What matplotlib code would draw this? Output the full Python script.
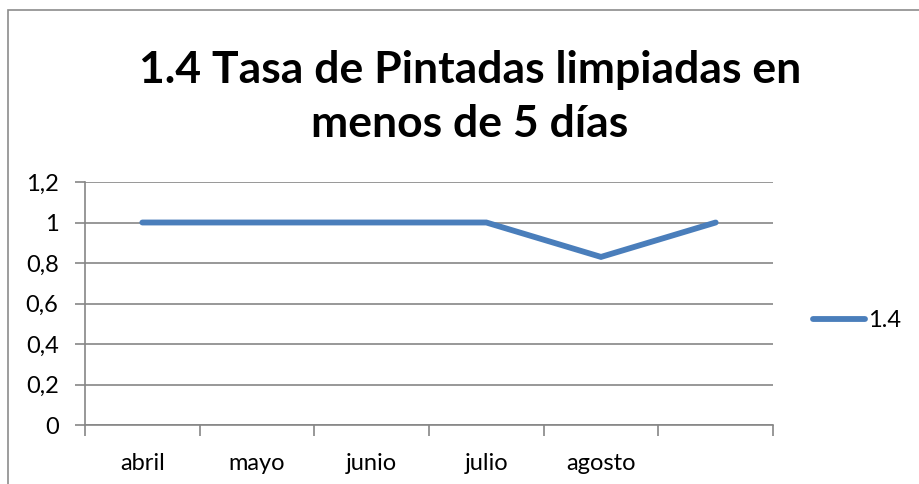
import matplotlib
matplotlib.use("Agg")
import matplotlib.pyplot as plt
from matplotlib.patches import Rectangle

categories = ["abril", "mayo", "junio", "julio", "agosto", ""]
values = [1.0, 1.0, 1.0, 1.0, 0.83, 1.0]
yticks = [0, 0.2, 0.4, 0.6, 0.8, 1.0, 1.2]
ytick_labels = ["0", "0,2", "0,4", "0,6", "0,8", "1", "1,2"]
series_name = "1.4"
title = "1.4 Tasa de Pintadas limpiadas en\nmenos de 5 días"

plt.rcParams['font.family'] = ['Lato', 'DejaVu Sans']

fig = plt.figure(figsize=(9.19, 4.84), dpi=100)
fig.patches.append(Rectangle((8/919, -0.1), 1.2, (484-10)/484 + 0.1, transform=fig.transFigure,
                             fill=False, edgecolor="#8c8c8c", linewidth=1.2))

ax = fig.add_axes([85/919, 59/484, (773-85)/919, (425-182)/484])
x = list(range(len(categories)))
line, = ax.plot(x, values, color="#4A7EBB", linewidth=4.2, solid_capstyle="round",
                solid_joinstyle="miter", zorder=3)

ax.set_xlim(-0.5, len(categories) - 0.5)
ax.set_ylim(0, 1.2)
ax.set_yticks(yticks)
ax.set_yticklabels(ytick_labels, fontsize=17)
ax.set_xticks([i - 0.5 for i in range(len(categories) + 1)])
ax.set_xticklabels([])
ax.set_xticks(x, minor=True)
ax.set_xticklabels(categories, minor=True, fontsize=17)
ax.tick_params(axis='x', which='minor', length=0, pad=20)
ax.tick_params(axis='x', which='major', length=8, color="#868686", width=1.2)
ax.tick_params(axis='y', length=7, color="#868686", width=1.2, pad=12)
ax.yaxis.grid(True, color="#868686", linewidth=1.2)
ax.set_axisbelow(True)
for s in ["top", "right"]:
    ax.spines[s].set_visible(False)
for s in ["left", "bottom"]:
    ax.spines[s].set_color("#868686")
    ax.spines[s].set_linewidth(1.2)

fig.text(470/919, 1 - 97/484, title, ha="center", va="center", fontsize=32,
         fontweight="bold", linespacing=1.42)

fig.legend([line], [series_name], loc="center left", bbox_to_anchor=(792/919, 1 - 321/484),
           frameon=False, fontsize=17, handlelength=2.2, handletextpad=0.1)

fig.savefig("out.png", dpi=100)
